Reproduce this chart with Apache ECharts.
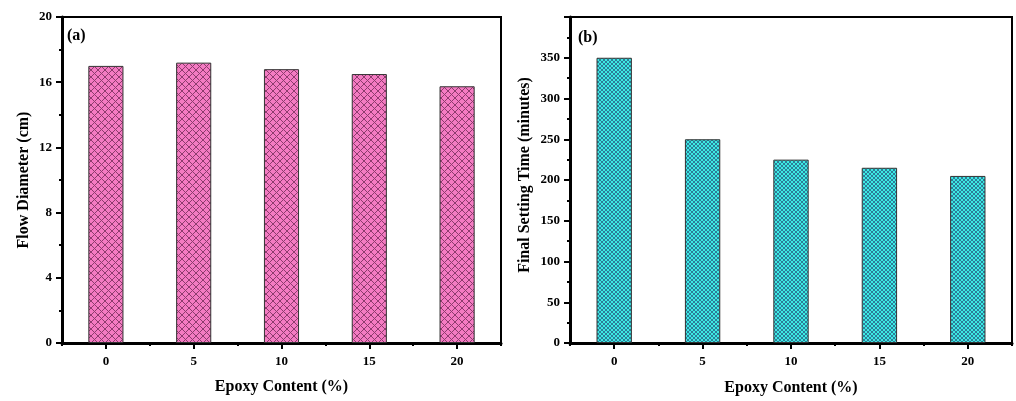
<!DOCTYPE html>
<html>
<head>
<meta charset="utf-8">
<script src="https://cdn.jsdelivr.net/npm/echarts@6/dist/echarts.min.js"></script>
<style>
html,body{margin:0;padding:0;background:#fff;}
#c{width:1016px;height:401px;}
</style>
</head>
<body>
<div id="c"></div>
<script>
// ---- data ----
const categories = ['0', '5', '10', '15', '20'];
const flowDiameter = [17.0, 17.2, 16.8, 16.5, 15.75];
const finalSettingTime = [350, 250, 225, 215, 205];
const leftYTicks = {min: 0, max: 20, interval: 4};
const rightYTicks = {min: 0, max: 400, interval: 50};

function makePattern(bg, line, p) {
  const c = document.createElement('canvas');
  c.width = p; c.height = p;
  const g = c.getContext('2d');
  g.fillStyle = bg; g.fillRect(0, 0, p, p);
  g.strokeStyle = line; g.lineWidth = 1;
  g.beginPath();
  g.moveTo(0, 0); g.lineTo(p, p);
  g.moveTo(p, 0); g.lineTo(0, p);
  g.stroke();
  return {image: c, repeat: 'repeat'};
}

const FONT = 'Liberation Serif';
const lbl = {color: '#000', fontFamily: FONT, fontWeight: 'bold', fontSize: 13};
const nameStyle = {color: '#000', fontFamily: FONT, fontWeight: 'bold', fontSize: 16};

function mainX(grid, gap) {
  return {
    type: 'category', gridIndex: grid, data: categories, boundaryGap: true, position: 'bottom',
    name: 'Epoxy Content (%)', nameLocation: 'middle', nameGap: gap, nameTextStyle: nameStyle,
    axisLine: {show: true, lineStyle: {color: '#000', width: 3}},
    axisTick: {show: true, alignWithLabel: true, length: 6, lineStyle: {color: '#000', width: 2}},
    axisLabel: Object.assign({margin: 12}, lbl),
    splitLine: {show: false}
  };
}
function minorX(grid) {
  return {
    type: 'category', gridIndex: grid, data: categories, boundaryGap: true, position: 'bottom', offset: 0,
    axisLine: {show: false},
    axisTick: {show: true, length: 3, lineStyle: {color: '#000', width: 2}},
    axisLabel: {show: false}, splitLine: {show: false}
  };
}
function yAx(grid, t, name, gap, hideMax, pad) {
  return {
    type: 'value', gridIndex: grid, min: t.min, max: t.max, interval: t.interval,
    name: name, nameLocation: 'middle', nameGap: gap,
    nameTextStyle: Object.assign({padding: pad}, nameStyle),
    axisLine: {show: true, lineStyle: {color: '#000', width: 3}},
    axisTick: {show: true, length: 6, lineStyle: {color: '#000', width: 2}},
    minorTick: {show: true, splitNumber: 2, length: 3, lineStyle: {color: '#000', width: 2}},
    axisLabel: Object.assign({margin: 10, showMaxLabel: !hideMax}, lbl),
    splitLine: {show: false}, minorSplitLine: {show: false}
  };
}

const chart = echarts.init(document.getElementById('c'), null, {renderer: 'canvas'});
chart.setOption({
  backgroundColor: '#fff',
  animation: false,
  grid: [
    {left: 62, right: 515, top: 17, bottom: 58, show: true, borderColor: '#000', borderWidth: 2},
    {left: 570, right: 4, top: 17, bottom: 56, show: true, borderColor: '#000', borderWidth: 2}
  ],
  xAxis: [mainX(0, 36), minorX(0), mainX(1, 37), minorX(1)],
  yAxis: [
    yAx(0, leftYTicks, 'Flow Diameter (cm)', 30, false, [0, 0, 0, 0]),
    yAx(1, rightYTicks, 'Final Setting Time (minutes)', 37, true, [0, 0, 0, 10])
  ],
  graphic: [
    {type: 'text', left: 67, top: 28, style: {text: '(a)', font: 'bold 16px "Liberation Serif"', fill: '#000'}},
    {type: 'text', left: 578, top: 30, style: {text: '(b)', font: 'bold 16px "Liberation Serif"', fill: '#000'}}
  ],
  series: [
    {
      type: 'bar', xAxisIndex: 0, yAxisIndex: 0, data: flowDiameter, barWidth: '40%',
      itemStyle: {color: makePattern('#F47BC2', '#8E3C6E', 7), borderColor: '#333', borderWidth: 1}
    },
    {
      type: 'bar', xAxisIndex: 2, yAxisIndex: 1, data: finalSettingTime, barWidth: '40%',
      itemStyle: {color: makePattern('#3CEBE4', '#2D7E98', 4), borderColor: '#333', borderWidth: 1}
    }
  ]
});
</script>
</body>
</html>
